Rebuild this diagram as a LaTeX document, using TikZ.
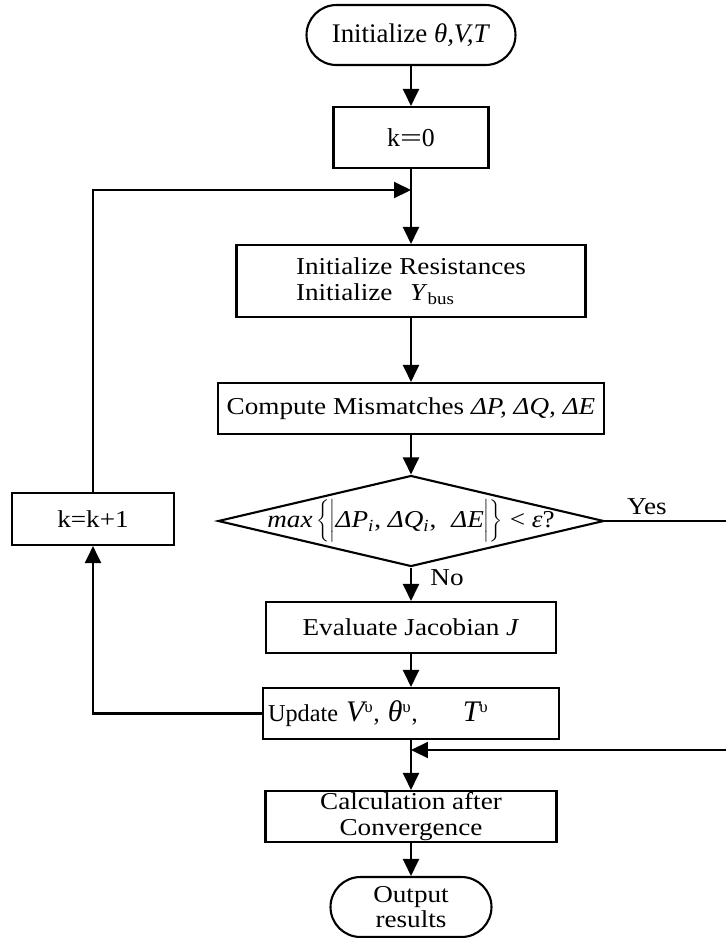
\documentclass[tikz,border=0pt]{standalone}
\usepackage{fontspec}
\usepackage{graphicx}
\setmainfont{Liberation Serif}[FakeStretch=1.12]
\newfontfamily\plainfont{Liberation Serif}
\usetikzlibrary{shapes.geometric,arrows.meta}
\newcommand\updvar[1]{{\fontsize{17}{20}\selectfont\itshape #1}}

\begin{document}
\begin{tikzpicture}[x=0.02cm,y=-0.02cm,line width=1.2pt,
  every node/.style={font=\fontsize{13.8}{14.6}\selectfont},
  box/.style={draw,inner sep=0pt,align=center,minimum height=1.02cm},
  term/.style={draw,rounded corners=0.6cm,minimum height=1.2cm,inner sep=0pt,align=center},
  arr/.style={-{Triangle[length=0.34cm,width=0.32cm]}}]
\path[use as bounding box] (0,0) rectangle (726,938);
\node[term,minimum width=4.18cm,font=\plainfont\fontsize{15.3}{18}\selectfont] (start) at (411,35) {Initialize \textit{θ,V,T}};
\node[box,minimum width=3.1cm,minimum height=1.22cm,font=\plainfont\fontsize{14.7}{17}\selectfont] (k0) at (411,137.5) {k\scalebox{1.5}[1]{=}0};
\node[box,minimum width=6.98cm,minimum height=1.44cm,align=left] (init) at (411,281) {Initialize Resistances\\Initialize\hspace{0.35cm}\textit{Y}\textsubscript{bus}};
\node[box,minimum width=7.72cm] (comp) at (411,408.5) {Compute Mismatches \textit{ΔP, ΔQ, ΔE}};
\node[draw,diamond,minimum width=7.72cm,minimum height=1.82cm,inner sep=0pt] (cond) at (411,521) {};
\node (condtxt) at (cond.center) {\textit{max}\,$\bigg\{\bigg|$\textit{ΔP}\textsubscript{\itshape i}, \textit{ΔQ}\textsubscript{\itshape i},\hspace{0.3cm}\textit{ΔE}$\bigg|\bigg\}$ < \textit{ε}?};
\node[box,minimum width=3.24cm,minimum height=1.04cm] (k1) at (93,519) {k=k+1};
\node[box,minimum width=5.8cm] (eval) at (411,627.5) {Evaluate Jacobian \textit{J}};
\node[box,minimum width=5.92cm,inner xsep=0.1cm,text width=5.72cm,align=left,font=\plainfont\fontsize{13.8}{16}\selectfont] (upd) at (411,713.5) {Update \updvar{V}\textsuperscript{υ}, \updvar{θ}\textsuperscript{υ},\hspace{0.9cm}\updvar{T}\textsuperscript{υ}};
\node[box,minimum width=5.82cm] (calc) at (411,816.5) {Calculation after\\Convergence};
\node[term,minimum width=3.22cm] (out) at (411,907) {Output\\results};
\node (yes) at (647,507) {Yes};
\node (no) at (447,578) {No};
\coordinate (join1) at (411,190);
\coordinate (join2) at (411,750);
\coordinate (edge1) at (740,521);
\coordinate (edge2) at (740,750);
\draw[arr] (start) -- (k0);
\draw[arr] (k0) -- (init);
\draw[arr] (k1.north) |- (join1);
\draw[arr] (init) -- (comp);
\draw[arr] (comp) -- (cond);
\draw[arr] (cond) -- (eval);
\draw[arr] (eval) -- (upd);
\draw[arr] (upd.west) -| (k1.south);
\draw[arr] (cond.east) -- (edge1) -- (edge2) -- (join2);
\draw[arr] (upd) -- (calc);
\draw[arr] (calc) -- (out);
\end{tikzpicture}
\end{document}
